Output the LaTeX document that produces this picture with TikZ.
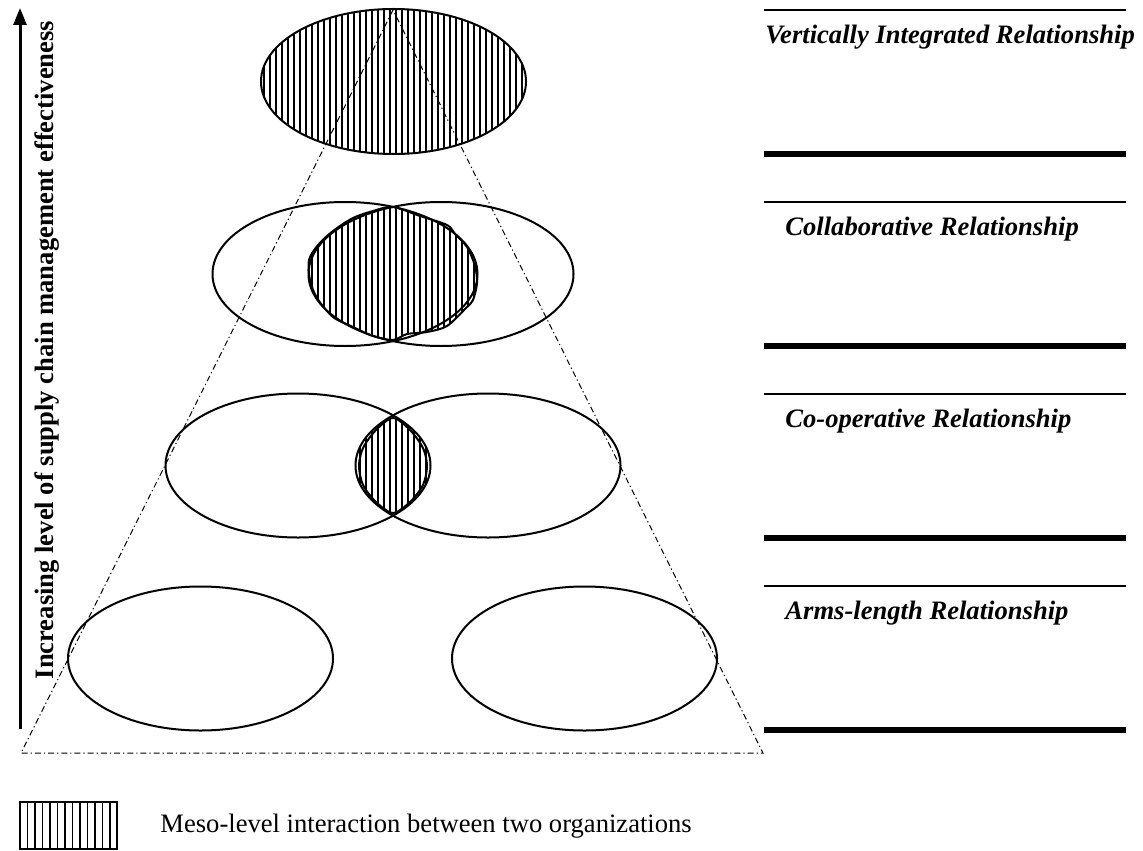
\documentclass[tikz,border=0pt]{standalone}
\usepackage{fontspec}
\setmainfont{Liberation Serif}
\usetikzlibrary{arrows.meta, positioning, calc}

\tikzset{
  orgline/.style={line width=1pt},
  hatchline/.style={line width=0.6pt},
  coneline/.style={line width=0.5pt, dash pattern=on 3pt off 1.5pt on 0.6pt off 1.5pt},
  thinrule/.style={line width=0.8pt},
  thickrule/.style={line width=2.6pt},
  levellabel/.style={anchor=west, inner sep=0pt, font=\fontsize{13.3}{15}\selectfont\bfseries\itshape},
}

\begin{document}
\begin{tikzpicture}[x=0.5pt, y=-0.5pt]
    \useasboundingbox (0,0) rectangle (1143,850);

    % 1. HATCHED INTERACTION AREAS (drawn first so outlines sit on top)
    \begin{scope}
        \clip (393.5,81.5) ellipse [x radius=132.5, y radius=72.5];
        \foreach \x in {258,264,...,528} {
            \draw[hatchline] (\x,0) -- (\x,160);
        }
    \end{scope}

    \begin{scope}
        \clip plot[smooth cycle] coordinates {(393,207) (420,216) (447,225) (455,234) (467,247) (475,266)
            (477,283) (473,300) (466,308) (447,326) (427,332) (407,334) (393,340) (373,336) (353,327)
            (333,317) (317,298) (310,280) (309,260) (318,245) (333,231) (353,218) (373,211)};
        \foreach \x in {300,306,...,480} {
            \draw[hatchline] (\x,200) -- (\x,345);
        }
    \end{scope}
    \draw[orgline] plot[smooth cycle] coordinates {(393,207) (420,216) (447,225) (455,234) (467,247) (475,266)
        (477,283) (473,300) (466,308) (447,326) (427,332) (407,334) (393,340) (373,336) (353,327)
        (333,317) (317,298) (310,280) (309,260) (318,245) (333,231) (353,218) (373,211)};

    \begin{scope}
        \clip (298,465.5) ellipse [x radius=132.5, y radius=72];
        \clip (488,465.5) ellipse [x radius=132.5, y radius=72];
        \foreach \x in {354,360,...,432} {
            \draw[hatchline] (\x,400) -- (\x,530);
        }
    \end{scope}
    \draw[orgline] plot[smooth cycle] coordinates {(393,418) (410,430) (423,448) (427,466)
        (423,485) (410,502) (393,513) (376,502) (363,485) (359,466) (363,448) (376,430)};

    % 2. ORGANIZATIONS AT EACH LEVEL
    \draw[orgline] (393.5,81.5) ellipse [x radius=132.5, y radius=72.5];
    \foreach \cx in {345,441} {
        \draw[orgline] (\cx,274) ellipse [x radius=132.5, y radius=72];
    }
    \foreach \cx in {298,488} {
        \draw[orgline] (\cx,465.5) ellipse [x radius=132.5, y radius=72];
    }
    \foreach \cx in {200.5,584.5} {
        \draw[orgline] (\cx,658.5) ellipse [x radius=132.5, y radius=72];
    }

    % 3. CONE
    \coordinate (apex) at (393,10);
    \coordinate (baseL) at (21,753);
    \coordinate (baseR) at (763,753);
    \draw[coneline] (apex) -- (baseL) -- (baseR) -- cycle;

    % 4. AXIS ARROW
    \coordinate (arrowfoot) at (20,729);
    \coordinate (arrowtip) at (20,8);
    \draw[line width=1.5pt, -{Triangle[length=8.5pt, width=6.5pt]}] (arrowfoot) -- (arrowtip);
    \node[rotate=90, inner sep=0pt, font=\fontsize{13.3}{15}\selectfont\bfseries] (axislabel) at (47,350)
        {Increasing level of supply chain management effectiveness};

    % 5. RELATIONSHIP BANDS
    \foreach \y in {10,202,394,586} {
        \draw[thinrule] (764,\y) -- (1126,\y);
        \draw[thickrule] (764,\y+144) -- (1126,\y+144);
    }
    \node[levellabel] (vertical) at (765,37) {Vertically Integrated Relationship};
    \node[levellabel] (collab) at (785,229) {Collaborative Relationship};
    \node[levellabel] (coop) at (785,421) {Co-operative Relationship};
    \node[levellabel] (arms) at (785,613) {Arms-length Relationship};

    % 6. LEGEND
    \draw[line width=0.7pt] (20,802) rectangle (117,849);
    \foreach \x in {27.5,35,...,110} {
        \draw[hatchline] (\x,802) -- (\x,849);
    }
    \node[anchor=west, inner sep=0pt, font=\fontsize{13.3}{15}\selectfont] (legendtext) at (160,826)
        {Meso-level interaction between two organizations};

\end{tikzpicture}
\end{document}
